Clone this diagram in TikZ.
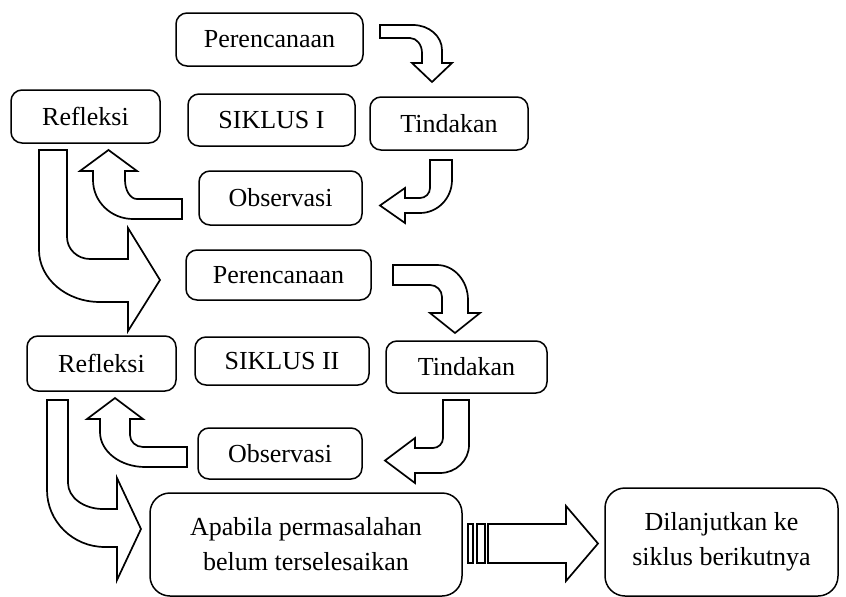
\documentclass[tikz,border=0pt]{standalone}
\usepackage{fontspec}
\setmainfont{Liberation Serif}
\usepackage{tikz}
\usetikzlibrary{positioning}
\tikzset{
    box/.style={rectangle, draw, line width=1.5pt, rounded corners=11pt, align=center, inner sep=0pt, font=\fontsize{26}{35}\selectfont},
    bigbox/.style={box, rounded corners=20pt},
    blockarrow/.style={draw, fill=white, line width=1.7pt},
}

\begin{document}
\begin{tikzpicture}[x=1pt, y=-1pt]
    \useasboundingbox (0,0) rectangle (846,597);

    % siklus I
    \node[box, minimum width=187pt, minimum height=53pt] (plan1) at (269.5,39.5) {Perencanaan};
    \node[box, minimum width=149pt, minimum height=53pt] (refl1) at (85.5,116.5) {Refleksi};
    \node[box, minimum width=167pt, minimum height=52pt] (siklus1) at (271.5,120) {SIKLUS I};
    \node[box, minimum width=158pt, minimum height=53pt] (tind1) at (449,123.5) {Tindakan};
    \node[box, minimum width=163pt, minimum height=54pt] (obs1) at (280.5,198) {Observasi};

    % siklus II
    \node[box, minimum width=185pt, minimum height=50pt] (plan2) at (278.5,275) {Perencanaan};
    \node[box, minimum width=149pt, minimum height=55pt] (refl2) at (101.5,363.5) {Refleksi};
    \node[box, minimum width=174pt, minimum height=48pt] (siklus2) at (282,361) {SIKLUS II};
    \node[box, minimum width=161pt, minimum height=52pt] (tind2) at (466.5,367) {Tindakan};
    \node[box, minimum width=164pt, minimum height=51pt] (obs2) at (280,453.5) {Observasi};

    \node[bigbox, minimum width=312pt, minimum height=103pt] (belum) at (306,544.5) {Apabila permasalahan\\belum terselesaikan};
    \node[bigbox, minimum width=233pt, minimum height=108pt] (lanjut) at (721.5,542) {Dilanjutkan ke\\siklus berikutnya};

    % bent arrows, siklus I
    \draw[blockarrow] (380,25) -- (413,25) arc[start angle=-90, end angle=0, x radius=29, y radius=25]
        -- (442,63) -- (452,63) -- (432,82) -- (412,63) -- (422,63) -- (422,53)
        arc[start angle=0, end angle=-90, x radius=12, y radius=15] -- (380,38) -- cycle;
    \draw[blockarrow] (430,160) -- (452,160) -- (452,180) arc[start angle=0, end angle=90, x radius=32, y radius=33]
        -- (405,213) -- (405,223) -- (380,205.5) -- (405,188) -- (405,198) -- (420,198)
        arc[start angle=90, end angle=0, radius=10] -- cycle;
    \draw[blockarrow] (182,199) -- (182,219) -- (133,219) arc[start angle=90, end angle=180, x radius=40, y radius=39]
        -- (93,171) -- (80,171) -- (108.5,150) -- (137,171) -- (125,171) -- (125,180)
        arc[start angle=180, end angle=90, x radius=12, y radius=19] -- cycle;
    \draw[blockarrow] (39,150) -- (39,250) arc[start angle=180, end angle=90, x radius=61, y radius=52]
        -- (128,302) -- (128,331) -- (160,280) -- (128,228) -- (128,259) -- (90,259)
        arc[start angle=90, end angle=180, x radius=23, y radius=22] -- (67,150) -- cycle;

    % bent arrows, siklus II
    \draw[blockarrow] (393,265) -- (437,265) arc[start angle=-90, end angle=0, x radius=31, y radius=35]
        -- (468,313) -- (480,313) -- (455,333) -- (430,313) -- (442,313) -- (442,297)
        arc[start angle=0, end angle=-90, radius=12] -- (393,285) -- cycle;
    \draw[blockarrow] (443,400) -- (469,400) -- (469,445) arc[start angle=0, end angle=90, x radius=29, y radius=28]
        -- (415,473) -- (415,483) -- (385,460.5) -- (415,438) -- (415,448) -- (433,448)
        arc[start angle=90, end angle=0, radius=10] -- cycle;
    \draw[blockarrow] (187,447) -- (187,467) -- (145,467) arc[start angle=90, end angle=180, x radius=45, y radius=35]
        -- (100,419) -- (87,419) -- (115,398) -- (143,419) -- (130,419) -- (130,435)
        arc[start angle=180, end angle=90, x radius=13, y radius=12] -- cycle;
    \draw[blockarrow] (47,400) -- (47,490) arc[start angle=180, end angle=90, x radius=58, y radius=57]
        -- (117,547) -- (117,580) -- (141,529) -- (117,478) -- (117,509) -- (103,509)
        arc[start angle=90, end angle=180, x radius=35, y radius=26] -- (68,400) -- cycle;

    % striped arrow
    \draw[blockarrow] (468,524) rectangle (473,563);
    \draw[blockarrow] (477,524) rectangle (485,563);
    \draw[blockarrow] (488,524) -- (566,524) -- (566,506) -- (598,543.5) -- (566,581) -- (566,563) -- (488,563) -- cycle;
\end{tikzpicture}
\end{document}
